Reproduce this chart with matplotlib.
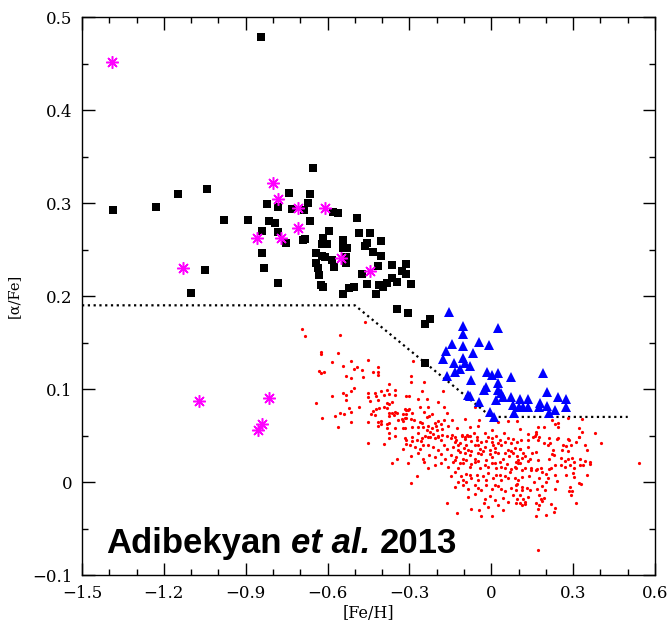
import numpy as np
import matplotlib
matplotlib.use("Agg")
import matplotlib.pyplot as plt
from matplotlib.ticker import MultipleLocator, FixedLocator
from matplotlib.offsetbox import TextArea, HPacker, AnchoredOffsetbox

# [Fe/H], [alpha/Fe] per population
halo = [(-1.39, 0.452), (-0.80, 0.322), (-0.78, 0.304), (-0.71, 0.295), (-0.61, 0.295),
        (-0.71, 0.273), (-0.86, 0.262), (-0.77, 0.262), (-0.55, 0.241), (-0.445, 0.227),
        (-1.13, 0.230), (-1.07, 0.087), (-0.815, 0.090), (-0.84, 0.062), (-0.855, 0.056)]

thick_disk = [(-0.844, 0.478), (-1.386, 0.292), (-1.229, 0.296), (-1.148, 0.310), (-1.042, 0.315),
              (-0.980, 0.282), (-0.892, 0.282), (-1.049, 0.228), (-1.101, 0.203), (-0.822, 0.299),
              (-0.782, 0.296), (-0.742, 0.311), (-0.665, 0.310), (-0.672, 0.300), (-0.731, 0.294),
              (-0.687, 0.292), (-0.665, 0.281), (-0.815, 0.281), (-0.793, 0.278), (-0.841, 0.270),
              (-0.782, 0.269), (-0.753, 0.257), (-0.690, 0.260), (-0.683, 0.261), (-0.841, 0.246),
              (-0.833, 0.230), (-0.782, 0.214), (-0.654, 0.338), (-0.581, 0.290), (-0.562, 0.289),
              (-0.493, 0.284), (-0.595, 0.270), (-0.617, 0.262), (-0.621, 0.256), (-0.603, 0.256),
              (-0.544, 0.260), (-0.544, 0.252), (-0.529, 0.252), (-0.643, 0.246), (-0.621, 0.243),
              (-0.610, 0.242), (-0.584, 0.239), (-0.533, 0.242), (-0.533, 0.235), (-0.643, 0.235),
              (-0.636, 0.230), (-0.577, 0.231), (-0.632, 0.223), (-0.625, 0.212), (-0.617, 0.210),
              (-0.544, 0.202), (-0.522, 0.209), (-0.504, 0.210), (-0.485, 0.268), (-0.445, 0.268),
              (-0.405, 0.259), (-0.456, 0.257), (-0.463, 0.254), (-0.434, 0.247), (-0.405, 0.243),
              (-0.416, 0.232), (-0.364, 0.233), (-0.313, 0.234), (-0.328, 0.227), (-0.313, 0.224),
              (-0.474, 0.224), (-0.456, 0.213), (-0.412, 0.212), (-0.397, 0.210), (-0.364, 0.219),
              (-0.383, 0.214), (-0.346, 0.215), (-0.295, 0.213), (-0.423, 0.202), (-0.346, 0.186),
              (-0.306, 0.182), (-0.225, 0.175), (-0.244, 0.170), (-0.244, 0.128)]

high_alpha_mr = [(-0.156, 0.183), (-0.104, 0.168), (0.024, 0.166), (-0.104, 0.159), (-0.046, 0.151),
                 (-0.145, 0.148), (-0.104, 0.146), (-0.009, 0.147), (-0.167, 0.141), (-0.068, 0.139),
                 (-0.178, 0.132), (-0.104, 0.133), (-0.137, 0.128), (-0.097, 0.128), (-0.079, 0.125),
                 (-0.115, 0.122), (-0.134, 0.118), (-0.163, 0.114), (-0.016, 0.118), (0.002, 0.115),
                 (0.024, 0.117), (0.071, 0.113), (0.189, 0.117), (-0.075, 0.110), (0.024, 0.106),
                 (-0.020, 0.102), (-0.027, 0.099), (0.024, 0.099), (0.035, 0.096), (0.203, 0.097),
                 (-0.086, 0.094), (-0.079, 0.092), (0.016, 0.088), (0.042, 0.091), (0.071, 0.091),
                 (0.104, 0.089), (0.134, 0.089), (0.244, 0.091), (0.273, 0.089), (-0.046, 0.086),
                 (0.079, 0.083), (0.101, 0.081), (0.115, 0.081), (0.134, 0.081), (0.178, 0.085),
                 (0.174, 0.081), (0.203, 0.082), (0.233, 0.077), (0.273, 0.081), (-0.005, 0.075),
                 (0.082, 0.074), (0.211, 0.074), (0.009, 0.070)]

thin_disk = [
    (-0.694, 0.165), (-0.683, 0.157), (-0.555, 0.158), (-0.463, 0.172), (-0.625, 0.140), (-0.625, 0.138),
    (-0.562, 0.139), (-0.584, 0.129), (-0.544, 0.125), (-0.515, 0.130), (-0.493, 0.124), (-0.504, 0.122),
    (-0.474, 0.120), (-0.452, 0.131), (-0.632, 0.119), (-0.625, 0.117), (-0.614, 0.118), (-0.533, 0.114),
    (-0.515, 0.112), (-0.471, 0.113), (-0.434, 0.118), (-0.416, 0.124), (-0.416, 0.118), (-0.416, 0.115),
    (-0.375, 0.105), (-0.383, 0.099), (-0.405, 0.098), (-0.353, 0.099), (-0.504, 0.101), (-0.515, 0.098),
    (-0.544, 0.096), (-0.533, 0.094), (-0.584, 0.092), (-0.452, 0.096), (-0.427, 0.096), (-0.423, 0.092),
    (-0.452, 0.091), (-0.394, 0.094), (-0.375, 0.095), (-0.353, 0.094), (-0.445, 0.087), (-0.416, 0.088),
    (-0.533, 0.088), (-0.383, 0.085), (-0.375, 0.084), (-0.364, 0.086), (-0.313, 0.092), (-0.302, 0.092),
    (-0.643, 0.085), (-0.485, 0.081), (-0.412, 0.080), (-0.394, 0.081), (-0.383, 0.080), (-0.522, 0.080),
    (-0.515, 0.075), (-0.434, 0.076), (-0.423, 0.078), (-0.375, 0.074), (-0.364, 0.074), (-0.353, 0.075),
    (-0.346, 0.074), (-0.313, 0.077), (-0.306, 0.077), (-0.555, 0.074), (-0.540, 0.073), (-0.573, 0.071),
    (-0.441, 0.073), (-0.427, 0.072), (-0.375, 0.071), (-0.357, 0.072), (-0.324, 0.073), (-0.313, 0.073),
    (-0.621, 0.069), (-0.515, 0.065), (-0.452, 0.065), (-0.416, 0.065), (-0.405, 0.066), (-0.405, 0.062),
    (-0.383, 0.062), (-0.375, 0.063), (-0.342, 0.067), (-0.328, 0.068), (-0.324, 0.066), (-0.313, 0.069),
    (-0.562, 0.059), (-0.416, 0.060), (-0.383, 0.058), (-0.353, 0.058), (-0.324, 0.058), (-0.375, 0.053),
    (-0.375, 0.047), (-0.353, 0.049), (-0.317, 0.047),
    (-0.452, 0.042), (-0.394, 0.041), (-0.313, 0.041), (-0.324, 0.035), (-0.346, 0.025), (-0.364, 0.020),
    (-0.288, 0.130), (-0.295, 0.114), (-0.295, 0.108), (-0.247, 0.108), (-0.178, 0.098), (-0.255, 0.098),
    (-0.269, 0.089), (-0.236, 0.089), (-0.196, 0.086), (-0.093, 0.092), (-0.060, 0.081), (-0.262, 0.081),
    (-0.233, 0.081), (-0.174, 0.081), (-0.317, 0.078), (-0.302, 0.078), (-0.291, 0.074), (-0.247, 0.075),
    (-0.218, 0.073), (-0.163, 0.074), (-0.317, 0.069), (-0.295, 0.068), (-0.284, 0.067), (-0.262, 0.065),
    (-0.236, 0.070), (-0.229, 0.071), (-0.255, 0.063), (-0.196, 0.066), (-0.174, 0.067), (-0.145, 0.067),
    (-0.097, 0.068), (-0.046, 0.067), (0.024, 0.065), (0.060, 0.066), (0.093, 0.066), (-0.291, 0.059),
    (-0.269, 0.059), (-0.251, 0.059), (-0.233, 0.060), (-0.207, 0.063), (-0.203, 0.060), (-0.185, 0.062),
    (-0.159, 0.060), (-0.126, 0.058), (-0.079, 0.059), (-0.049, 0.060), (-0.317, 0.058), (-0.236, 0.056),
    (-0.218, 0.058), (-0.200, 0.056), (-0.181, 0.057), (-0.269, 0.053), (-0.225, 0.054), (-0.214, 0.052),
    (-0.181, 0.051), (-0.145, 0.051), (-0.108, 0.051), (-0.090, 0.051), (-0.064, 0.053), (-0.024, 0.053),
    (0.002, 0.056), (0.046, 0.053), (0.104, 0.057), (-0.291, 0.048), (-0.255, 0.047), (-0.233, 0.048),
    (-0.207, 0.047), (-0.196, 0.048), (-0.134, 0.048), (-0.097, 0.048), (-0.086, 0.049), (-0.053, 0.048),
    (0.002, 0.047),
    (0.280, 0.069), (0.332, 0.068), (0.222, 0.067), (0.233, 0.062), (0.244, 0.063), (0.192, 0.059),
    (0.170, 0.059), (0.244, 0.059), (0.163, 0.054), (0.163, 0.052), (0.134, 0.052), (0.321, 0.058),
    (0.332, 0.054), (0.379, 0.053), (0.174, 0.048), (0.152, 0.048), (0.211, 0.047), (0.244, 0.047),
    (0.280, 0.046), (0.321, 0.048),
    (-0.313, 0.045), (-0.292, 0.044), (-0.274, 0.045), (-0.258, 0.044), (-0.244, 0.049), (-0.225, 0.048),
    (-0.195, 0.049), (-0.183, 0.045), (-0.164, 0.049), (-0.146, 0.047), (-0.128, 0.045), (-0.109, 0.049),
    (-0.097, 0.046), (-0.079, 0.049), (-0.054, 0.045), (-0.036, 0.043), (-0.018, 0.044), (0.001, 0.043),
    (0.019, 0.049), (0.031, 0.045), (0.050, 0.043), (0.074, 0.042), (0.096, 0.043),
    (-0.298, 0.040), (-0.280, 0.038), (-0.262, 0.036), (-0.250, 0.040), (-0.231, 0.040), (-0.213, 0.038),
    (-0.195, 0.034), (-0.173, 0.040), (-0.161, 0.036), (-0.140, 0.038), (-0.121, 0.040), (-0.099, 0.037),
    (-0.085, 0.034), (-0.060, 0.040), (-0.042, 0.036), (-0.024, 0.038), (-0.005, 0.034), (0.013, 0.037),
    (0.037, 0.040), (0.062, 0.034), (0.086, 0.037), (0.104, 0.035),
    (-0.295, 0.028), (-0.270, 0.031), (-0.250, 0.025), (-0.229, 0.029), (-0.207, 0.027), (-0.183, 0.030),
    (-0.170, 0.025), (-0.148, 0.029), (-0.128, 0.027), (-0.115, 0.032), (-0.103, 0.025), (-0.079, 0.029),
    (-0.060, 0.025), (-0.036, 0.030), (-0.018, 0.024), (0.003, 0.027), (0.025, 0.031), (0.043, 0.025),
    (0.064, 0.028), (0.080, 0.031), (0.098, 0.024),
    (-0.305, 0.020), (-0.246, 0.022), (-0.231, 0.015), (-0.207, 0.018), (-0.183, 0.020), (-0.158, 0.016),
    (-0.140, 0.021), (-0.121, 0.015), (-0.103, 0.020), (-0.079, 0.016), (-0.060, 0.021), (-0.042, 0.015),
    (-0.024, 0.018), (0.001, 0.020), (0.019, 0.015), (0.037, 0.016), (0.056, 0.019), (0.074, 0.014),
    (0.098, 0.020),
    (-0.274, 0.006), (-0.134, 0.011), (-0.112, 0.006), (-0.091, 0.009), (-0.073, 0.004), (-0.054, 0.008),
    (-0.030, 0.006), (-0.012, 0.010), (0.007, 0.004), (0.031, 0.008), (0.050, 0.006), (0.068, 0.011),
    (0.086, 0.004),
    (-0.295, -0.001), (-0.134, -0.005), (-0.103, -0.003), (-0.085, -0.007), (-0.060, -0.003), (-0.036, -0.009),
    (-0.018, -0.003), (0.001, -0.007), (0.025, -0.004), (0.050, -0.010), (0.074, -0.006),
    (-0.085, -0.016), (-0.060, -0.013), (-0.024, -0.018), (-0.005, -0.015), (0.013, -0.019), (0.043, -0.017),
    (0.080, -0.014),
    (-0.164, -0.023), (-0.124, -0.033), (-0.075, -0.029), (-0.046, -0.030), (-0.036, -0.037), (-0.026, -0.023),
    (-0.012, -0.027), (0.003, -0.036), (0.025, -0.025), (0.043, -0.030), (0.062, -0.021),
    (-0.134, 0.043), (-0.115, 0.042), (-0.091, 0.040), (-0.073, 0.044), (-0.048, 0.040), (-0.012, 0.048),
    (0.006, 0.040), (0.025, 0.042), (0.062, 0.047), (0.080, 0.046), (-0.121, 0.034), (-0.097, 0.031),
    (-0.073, 0.033), (-0.048, 0.031), (-0.030, 0.033), (-0.005, 0.030), (0.013, 0.032), (0.050, 0.031),
    (0.071, 0.033), (-0.134, 0.024), (-0.115, 0.020), (-0.091, 0.024), (-0.073, 0.019), (-0.048, 0.023),
    (-0.012, 0.016), (0.013, 0.020), (0.031, 0.022), (0.050, 0.015), (0.086, 0.016), (-0.146, 0.007),
    (-0.103, 0.002), (-0.079, 0.008), (-0.048, 0.002), (-0.018, 0.002), (0.019, 0.008), (0.037, 0.002),
    (0.062, 0.004), (-0.121, 0.000), (-0.091, 0.000), (-0.048, -0.006), (0.013, -0.003), (0.037, -0.007),
    (0.092, -0.003),
    (0.108, 0.045), (0.133, 0.045), (0.159, 0.049), (0.172, 0.045), (0.194, 0.042), (0.206, 0.040),
    (0.214, 0.042), (0.242, 0.046), (0.263, 0.040), (0.275, 0.039), (0.284, 0.045), (0.291, 0.040),
    (0.312, 0.043), (0.322, 0.048), (0.343, 0.040), (0.352, 0.034), (0.401, 0.042), (0.104, 0.035),
    (0.133, 0.038), (0.150, 0.031), (0.165, 0.032), (0.115, 0.031), (0.096, 0.028), (0.113, 0.026),
    (0.125, 0.028), (0.141, 0.025), (0.135, 0.023), (0.172, 0.024), (0.212, 0.025), (0.223, 0.030),
    (0.230, 0.029), (0.255, 0.026), (0.269, 0.023), (0.281, 0.025), (0.294, 0.026), (0.303, 0.021),
    (0.324, 0.025), (0.343, 0.023), (0.361, 0.021), (0.361, 0.019), (0.227, 0.034), (0.259, 0.034),
    (0.281, 0.033), (0.092, 0.021), (0.104, 0.020), (0.092, 0.015), (0.113, 0.013), (0.123, 0.015),
    (0.145, 0.015), (0.145, 0.013), (0.162, 0.013), (0.169, 0.014), (0.181, 0.015), (0.202, 0.009),
    (0.212, 0.014), (0.220, 0.015), (0.233, 0.018), (0.257, 0.018), (0.269, 0.016), (0.288, 0.018),
    (0.303, 0.015), (0.324, 0.018), (0.336, 0.018), (0.352, 0.008), (0.275, 0.008), (0.300, 0.010),
    (0.303, 0.005), (0.233, 0.008), (0.242, 0.001), (0.208, 0.004), (0.186, 0.011), (0.174, 0.004),
    (0.157, 0.000), (0.137, 0.006), (0.113, 0.005), (0.098, 0.002), (0.202, -0.000), (0.096, -0.002),
    (0.092, -0.009), (0.113, -0.005), (0.113, -0.009), (0.129, -0.006), (0.141, -0.009), (0.169, -0.007),
    (0.184, -0.004), (0.198, -0.009), (0.233, -0.007), (0.288, -0.005), (0.284, -0.010), (0.296, -0.010),
    (0.322, -0.001), (0.330, -0.002), (0.104, -0.014), (0.096, -0.018), (0.117, -0.018), (0.133, -0.016),
    (0.174, -0.014), (0.181, -0.018), (0.184, -0.020), (0.194, -0.017), (0.291, -0.014), (0.092, -0.023),
    (0.104, -0.023), (0.123, -0.021), (0.125, -0.024), (0.111, -0.025), (0.165, -0.023), (0.174, -0.025),
    (0.220, -0.024), (0.233, -0.028), (0.230, -0.032), (0.312, -0.023), (0.172, -0.029), (0.202, -0.035),
    (0.162, -0.036), (0.170, -0.073), (0.540, 0.020),
]

# separating line between the high- and low-alpha sequences
sep_feh = [-1.5, -0.5, 0.0, 0.5]
sep_afe = [0.19, 0.19, 0.07, 0.07]

xticks = [-1.5, -1.2, -0.9, -0.6, -0.3, 0, 0.3, 0.6]
yticks = [-0.1, 0, 0.1, 0.2, 0.3, 0.4, 0.5]


def fmt(v):
    if v == 0:
        return "0"
    return ("%g" % v).replace("-", "\u2212")


plt.rcParams['font.family'] = 'DejaVu Serif'
fig = plt.figure(figsize=(6.69, 6.23), dpi=100)
ax = fig.add_axes([0.1226, 0.077, 0.8565, 0.8957])

ax.plot(sep_feh, sep_afe, color='black', linestyle=(0, (1, 1.6)), linewidth=1.6, zorder=1)

td = np.array(thin_disk)
ax.plot(td[:, 0], td[:, 1], 'o', color='#ff0000', markersize=2.3, markeredgewidth=0, zorder=2)
tk = np.array(thick_disk)
ax.plot(tk[:, 0], tk[:, 1], 's', color='black', markersize=5.6, markeredgewidth=0, zorder=3)
hm = np.array(high_alpha_mr)
ax.plot(hm[:, 0], hm[:, 1], '^', color='#0000ff', markersize=7, markeredgewidth=0, zorder=3)
ha = np.array(halo)
ax.plot(ha[:, 0], ha[:, 1], marker=(8, 2, 0), linestyle='none', color='#ff00ff',
        markersize=9, markeredgewidth=1.1, zorder=4)

ax.set_xlim(-1.5, 0.6)
ax.set_ylim(-0.1, 0.5)
ax.xaxis.set_major_locator(FixedLocator(xticks))
ax.xaxis.set_minor_locator(MultipleLocator(0.1))
ax.yaxis.set_major_locator(FixedLocator(yticks))
ax.yaxis.set_minor_locator(MultipleLocator(0.05))
ax.set_xticklabels([fmt(v) for v in xticks])
ax.set_yticklabels([fmt(v) for v in yticks])
ax.tick_params(which='both', direction='in', top=True, right=True, width=1, labelsize=12)
ax.tick_params(which='major', length=9, pad=7)
ax.tick_params(which='minor', length=4.5)
for s in ax.spines.values():
    s.set_linewidth(1)

ax.set_xlabel('[Fe/H]', fontsize=11.5, labelpad=2)
ax.set_ylabel('[\u03b1/Fe]', fontsize=10.5, labelpad=8)

tp = dict(fontsize=25, fontweight='bold', family='Liberation Sans')
parts = [TextArea('Adibekyan', textprops=tp),
         TextArea('et al.', textprops=dict(tp, fontstyle='italic')),
         TextArea('2013', textprops=tp)]
box = HPacker(children=parts, align='baseline', pad=0, sep=6.5)
anchored = AnchoredOffsetbox(loc='lower left', child=box, pad=0, borderpad=0, frameon=False,
                             bbox_to_anchor=(-1.41, -0.084), bbox_transform=ax.transData)
ax.add_artist(anchored)

fig.savefig('out.png', dpi=100)
